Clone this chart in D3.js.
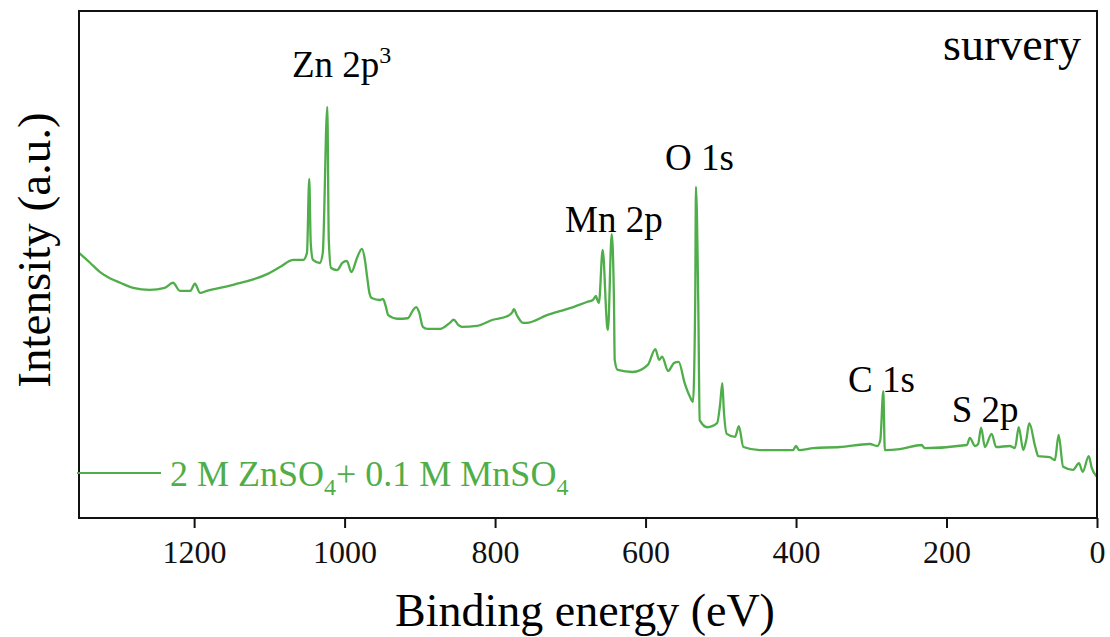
<!DOCTYPE html>
<html>
<head>
<meta charset="utf-8">
<title>XPS survey</title>
<script src="https://d3js.org/d3.v7.min.js"></script>
<style>
body { margin: 0; background: #fff; }
svg text { font-family: "Liberation Serif", "Times New Roman", serif; }
.spectrum { fill: none; stroke: #4fae4a; stroke-width: 2.3; stroke-linejoin: round; }
.frame { fill: none; stroke: #111; stroke-width: 2; }
.x.axis path { display: none; }
.x.axis line { stroke: #111; stroke-width: 2; }
.x.axis text { font-size: 32px; fill: #111; }
</style>
</head>
<body>
<script>
// binding energy (eV) and intensity (a.u.) of the survey scan
var energy = [1353, 1338, 1325, 1312, 1298, 1281, 1259, 1239, 1228, 1219,
  1205, 1199, 1192, 1183, 1148, 1103, 1086, 1068, 1055, 1050,
  1047, 1045, 1042, 1033, 1029, 1023, 1021, 1018, 1010, 1003,
  997, 991, 983, 977, 973, 970, 967, 964, 953, 949,
  945, 942, 930, 916, 909, 905, 901, 896, 890, 873,
  860, 855, 849, 844, 824, 803, 784, 777, 775, 771,
  763, 758, 731, 714, 696, 678, 670, 666, 665, 662,
  657, 651, 650, 645, 642, 641, 637, 617, 597, 587,
  582, 578, 570, 562, 556, 548, 541, 537, 534, 533,
  530, 528, 518, 505, 501, 498, 496, 492, 481, 476,
  470, 448, 404, 400, 396, 377, 342, 302, 292, 288,
  284, 282, 262, 233, 229, 173, 169, 162, 158, 154,
  149, 140, 134, 116, 109, 104, 98, 94, 90, 82,
  78, 63, 56, 51, 45, 32, 24, 19, 11, 7, 0];
var intensity = [52.3, 50.3, 48.5, 47.3, 46.4, 45.4, 45.0, 45.4, 46.4, 44.8,
  44.8, 46.2, 44.4, 44.8, 46.0, 48.1, 49.5, 50.9, 50.9, 52.3,
  66.9, 54.2, 50.9, 50.3, 52.3, 81.1, 54.8, 49.3, 48.9, 50.3,
  50.7, 48.5, 51.5, 53.1, 50.9, 47.5, 44.4, 43.4, 43.0, 43.2,
  41.6, 40.0, 39.3, 39.4, 41.0, 41.6, 40.6, 37.7, 37.3, 37.3,
  38.5, 39.1, 38.1, 37.7, 37.9, 39.1, 39.8, 40.6, 41.2, 40.0,
  38.5, 38.5, 40.0, 40.8, 41.6, 42.6, 43.0, 43.8, 43.4, 42.4,
  52.9, 37.7, 37.1, 56.0, 43.0, 31.2, 29.2, 28.8, 30.2, 33.3,
  31.2, 31.8, 29.0, 30.6, 30.8, 26.6, 23.9, 22.9, 43.0, 65.3,
  43.0, 19.3, 17.9, 18.7, 22.3, 26.6, 21.3, 16.6, 16.0, 18.1,
  14.0, 13.4, 13.4, 14.2, 13.4, 13.8, 14.0, 14.6, 14.2, 15.4,
  25.0, 13.4, 13.6, 14.4, 13.8, 14.4, 15.8, 14.2, 14.6, 17.8,
  14.0, 16.6, 14.0, 14.2, 13.8, 17.9, 13.4, 15.4, 18.7, 14.0,
  12.2, 12.0, 11.4, 16.4, 10.1, 9.5, 10.8, 9.1, 12.2, 9.9, 8.1];

var xTicks = [1200, 1000, 800, 600, 400, 200, 0];

// peak labels: text, energy of the label start, intensity of the baseline
var peakNames = ["Zn 2p", "Mn 2p", "O 1s", "C 1s", "S 2p"];
var peakEnergy = [1070, 707, 574, 331, 193];
var peakLevel = [87.0, 56.4, 68.6, 24.9, 18.9];

var width = 1110, height = 637;
var margin = {top: 11, right: 13, bottom: 119, left: 79};
var w = width - margin.left - margin.right,
    h = height - margin.top - margin.bottom;

var x = d3.scaleLinear().domain([1353, 0]).range([0, w]);
var y = d3.scaleLinear().domain([0, 100]).range([h, 0]);

var svg = d3.select("body").append("svg")
    .attr("width", width)
    .attr("height", height);

var g = svg.append("g")
    .attr("transform", "translate(" + margin.left + "," + margin.top + ")");

var data = energy.map(function(e, i) { return [e, intensity[i]]; });

var line = d3.line()
    .x(function(d) { return x(d[0]); })
    .y(function(d) { return y(d[1]); })
    .curve(d3.curveMonotoneX);

g.append("path")
    .datum(data)
    .attr("class", "spectrum")
    .attr("d", line);

// box around the plot
g.append("rect")
    .attr("class", "frame")
    .attr("width", w)
    .attr("height", h);

g.append("g")
    .attr("class", "x axis")
    .attr("transform", "translate(0," + h + ")")
    .call(d3.axisBottom(x).tickValues(xTicks).tickFormat(d3.format("d"))
      .tickSize(10).tickSizeOuter(0).tickPadding(12));

// axis titles
svg.append("text")
    .attr("x", margin.left + w / 2 - 3)
    .attr("y", 626)
    .attr("text-anchor", "middle")
    .style("font-size", "46px")
    .text("Binding energy (eV)");

svg.append("text")
    .attr("transform", "translate(50," + (margin.top + 239) + ") rotate(-90)")
    .attr("text-anchor", "middle")
    .style("font-size", "47px")
    .text("Intensity (a.u.)");

g.append("text")
    .attr("x", w - 16)
    .attr("y", 49)
    .attr("text-anchor", "end")
    .style("font-size", "46px")
    .text("survery");

// peak annotations
var labels = g.selectAll(".peak")
  .data(peakNames)
  .enter().append("text")
    .attr("class", "peak")
    .attr("x", function(d, i) { return x(peakEnergy[i]); })
    .attr("y", function(d, i) { return y(peakLevel[i]); })
    .style("font-size", "37px")
    .text(function(d) { return d; });

labels.filter(function(d) { return d === "Zn 2p"; })
  .append("tspan")
    .attr("dy", "-14")
    .style("font-size", "24px")
    .text("3");

// legend
var legend = g.append("g").attr("transform", "translate(0," + (y(8.9)) + ")");
legend.append("line")
    .attr("x1", -2).attr("x2", 82)
    .attr("stroke", "#4fae4a").attr("stroke-width", 2);

var lt = legend.append("text")
    .attr("x", 91)
    .attr("y", 13)
    .style("font-size", "36px")
    .attr("fill", "#4fae4a");
lt.append("tspan").text("2 M ZnSO");
lt.append("tspan").attr("dy", 9).style("font-size", "24px").text("4");
lt.append("tspan").attr("dy", -9).text("+ 0.1 M MnSO");
lt.append("tspan").attr("dy", 9).style("font-size", "24px").text("4");
</script>
</body>
</html>
